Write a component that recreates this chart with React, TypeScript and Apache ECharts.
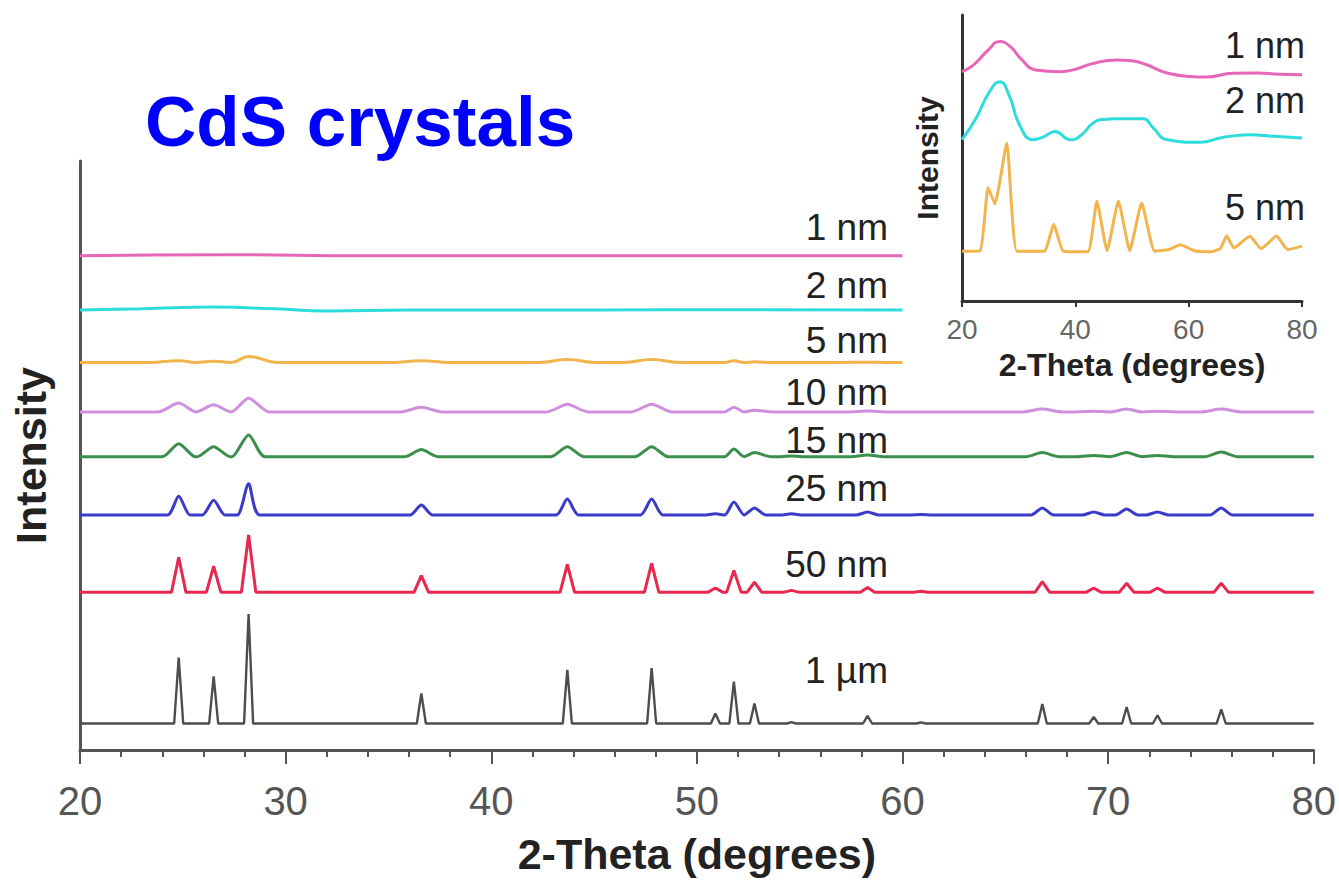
import React, { useEffect, useRef } from "react";
import * as echarts from "echarts";

// ---------- DATA ----------
const peakPositions = [24.8, 26.5, 28.2, 36.6, 43.7, 47.8, 50.9, 51.8, 52.8, 54.6, 58.3, 60.9, 66.8, 69.3, 70.9, 72.4, 75.5];
const heights1um = [11.2, 8.0, 18.6, 5.1, 9.1, 9.4, 1.7, 7.1, 3.4, 0.25, 1.3, 0.2, 3.3, 1.1, 2.8, 1.4, 2.4];
const heights50nm = [5.9, 4.4, 9.7, 2.8, 4.7, 4.9, 0.7, 3.7, 1.7, 0.3, 0.8, 0.15, 1.8, 0.7, 1.5, 0.7, 1.5];
const heights25nm = [3.2, 2.5, 5.3, 1.7, 2.7, 2.7, 0.2, 2.2, 1.2, 0.2, 0.5, 0.1, 1.2, 0.5, 1.0, 0.5, 1.2];
const heights15nm = [2.2, 1.7, 3.7, 1.2, 1.7, 1.7, 0, 1.3, 0.7, 0.1, 0.3, 0, 0.7, 0.2, 0.7, 0.2, 0.8];
const heights10nm = [1.5, 1.2, 2.3, 0.8, 1.3, 1.3, 0, 0.8, 0.3, 0, 0.15, 0, 0.5, 0.1, 0.5, 0.1, 0.5];
const heights5nm = [0.3, 0.2, 1.0, 0.3, 0.5, 0.5, 0, 0.3, 0.1, 0, 0.05, 0, 0, 0, 0, 0, 0];
const points2nm: number[][] = [[20, 0], [23, 0.2], [26.5, 0.5], [29.5, 0.2], [32, -0.15], [36, 0], [45, 0], [52, 0.05], [60, 0]];
const points1nm: number[][] = [[20, 0], [27, 0.2], [34, 0], [45, 0], [60, 0]];

const sampleNames = ["1 µm", "50 nm", "25 nm", "15 nm", "10 nm", "5 nm", "2 nm", "1 nm"];
const sampleOffsets = [4.5, 26.8, 39.9, 49.8, 57.4, 65.8, 74.7, 83.9];
const sampleColors = ["#4d4d4d", "#e8294f", "#3b3bc9", "#3a8f4a", "#cf8fdf", "#f2b44c", "#2fdcdc", "#e866b8"];
const sampleHalfWidths = [0.22, 0.35, 0.55, 0.8, 1.0, 1.4];
const sampleEnds = [80, 80, 80, 80, 80, 60, 60, 60];

// inset traces (x in degrees, y in inset units 0..100)
const inset1nm: number[][] = [[20, 80.2], [22, 82.5], [24.5, 87.5], [26.7, 90.7], [28.5, 89], [30.5, 84.5], [33, 80.8], [37.3, 80.2], [40, 81], [43, 83], [47.3, 84.3], [50, 84], [52.6, 82.6], [56, 79.8], [60.2, 78.5], [63, 78.3], [67.9, 79.6], [72, 79.7], [76, 79.3], [80, 79.1]];
const inset2nm: number[][] = [[20, 56.4], [22.5, 64], [24.8, 73], [26.7, 76.7], [28.3, 72], [30.2, 61.4], [32.5, 56.4], [34.5, 57.5], [36.4, 59.3], [39.1, 56.4], [40.8, 57.6], [43.2, 62.3], [45, 63.5], [47.3, 63.7], [52, 63.7], [53.7, 60.6], [56.2, 56.4], [62, 55.5], [66, 57.2], [70.8, 58.1], [75, 57.6], [80, 57.0]];
const inset5nm: number[][] = [[20, 17.4], [23.2, 17.6], [24.6, 39.6], [25.8, 34], [27.9, 55.2], [29.7, 17.4], [34.5, 17.4], [36.2, 26.8], [37.9, 17.4], [42.2, 17.2], [43.8, 34.9], [45.6, 17.6], [47.6, 34.9], [49.6, 17.6], [51.7, 34.3], [54, 17.4], [56.5, 18], [58.5, 19.7], [61, 17.6], [64, 17.2], [65.6, 18.4], [66.7, 22.7], [68, 18.6], [70.8, 22.6], [72.8, 18.3], [75.5, 22.7], [77.5, 18], [80, 19.2]];
const insetNames = ["1 nm", "2 nm", "5 nm"];
const insetColors = ["#e866b8", "#2fdcdc", "#f2b44c"];

const mainXTicks = { min: 20, max: 80, interval: 10 };
const insetXTicks = { min: 20, max: 80, interval: 20 };

// ---------- helpers ----------
function buildPattern(heights: number[], halfWidth: number, start: number, end: number, offset: number) {
  const pts: number[][] = [[start, offset]];
  peakPositions.forEach((p, i) => {
    if (p > end) return;
    const prev = i > 0 ? peakPositions[i - 1] : start;
    const next = i < peakPositions.length - 1 ? Math.min(peakPositions[i + 1], end) : end;
    const l = p - Math.min(halfWidth, (p - prev) / 2);
    const r = p + Math.min(halfWidth, (next - p) / 2);
    pts.push([l, offset], [p, offset + heights[i]], [r, offset]);
  });
  pts.push([end, offset]);
  return pts;
}

const FONT = "Liberation Sans, Arial, Helvetica, sans-serif";

export default function App() {
  const ref = useRef<HTMLDivElement>(null);
  useEffect(() => {
    if (!ref.current) return;
    const chart = echarts.init(ref.current, undefined, { renderer: "svg" });
    const heightSets = [heights1um, heights50nm, heights25nm, heights15nm, heights10nm, heights5nm];

    const mainSeries: any[] = sampleNames.map((name, i) => {
      let data: number[][];
      if (i < heightSets.length) {
        data = buildPattern(heightSets[i], sampleHalfWidths[i], 20, sampleEnds[i], sampleOffsets[i]);
      } else {
        const src = i === 6 ? points2nm : points1nm;
        data = src.map(([x, y]) => [x, y + sampleOffsets[i]]);
      }
      return {
        type: "line",
        name,
        xAxisIndex: 0,
        yAxisIndex: 0,
        data,
        showSymbol: false,
        smooth: i >= 2 && i <= 4 ? 0.25 : i >= 5 ? 0.5 : false,
        lineStyle: { color: sampleColors[i], width: i === 0 ? 2.4 : 3 },
        silent: true,
      };
    });

    const insetSeries = [inset1nm, inset2nm, inset5nm].map((d, i) => ({
      type: "line",
      name: "inset " + insetNames[i],
      xAxisIndex: 1,
      yAxisIndex: 1,
      data: d,
      showSymbol: false,
      smooth: i === 2 ? 0.15 : 0.5,
      lineStyle: { color: insetColors[i], width: 3 },
      silent: true,
    }));

    const mainLabelY = [670, 564, 488, 440, 392, 340, 285, 227];
    const insetLabelY = [45, 100, 207];

    const graphics: any[] = [
      {
        type: "text",
        x: 145,
        y: 121,
        style: { text: "CdS crystals", fill: "#0000ff", font: `bold 71px ${FONT}`, verticalAlign: "middle" },
      },
      ...sampleNames.map((n, i) => ({
        type: "text",
        x: 888,
        y: mainLabelY[i],
        style: { text: n, fill: "#222", font: `37px ${FONT}`, align: "right", verticalAlign: "middle" },
      })),
      ...insetNames.map((n, i) => ({
        type: "text",
        x: 1305,
        y: insetLabelY[i],
        style: { text: n, fill: "#222", font: `36px ${FONT}`, align: "right", verticalAlign: "middle" },
      })),
    ];

    chart.setOption({
      animation: false,
      backgroundColor: "#ffffff",
      grid: [
        { left: 80, right: 24, top: 161, bottom: 123 },
        { left: 962, right: 37, top: 15, bottom: 579 },
      ],
      xAxis: [
        {
          type: "value",
          gridIndex: 0,
          min: mainXTicks.min,
          max: mainXTicks.max,
          interval: mainXTicks.interval,
          name: "2-Theta (degrees)",
          nameLocation: "middle",
          nameGap: 82,
          nameTextStyle: { fontSize: 43, fontWeight: "bold", color: "#222", fontFamily: FONT },
          axisLine: { show: true, onZero: false, lineStyle: { color: "#555", width: 3 } },
          axisTick: { show: true, length: 14, inside: false, lineStyle: { color: "#555", width: 2 } },
          minorTick: { show: true, splitNumber: 5, length: 7, lineStyle: { color: "#555", width: 2 } },
          axisLabel: { fontSize: 40, color: "#555", margin: 31, fontFamily: FONT },
          splitLine: { show: false },
        },
        {
          type: "value",
          gridIndex: 1,
          min: insetXTicks.min,
          max: insetXTicks.max,
          interval: insetXTicks.interval,
          name: "2-Theta (degrees)",
          nameLocation: "middle",
          nameGap: 48,
          nameTextStyle: { fontSize: 32, fontWeight: "bold", color: "#222", fontFamily: FONT },
          axisLine: { show: true, onZero: false, lineStyle: { color: "#333", width: 3 } },
          axisTick: { show: true, length: 6, lineStyle: { color: "#333", width: 2 } },
          axisLabel: { fontSize: 28, color: "#666", margin: 14, fontFamily: FONT },
          splitLine: { show: false },
        },
      ],
      yAxis: [
        {
          type: "value",
          gridIndex: 0,
          min: 0,
          max: 100,
          name: "Intensity",
          nameLocation: "middle",
          nameGap: 28,
          nameRotate: 90,
          nameTextStyle: { fontSize: 43, fontWeight: "bold", color: "#222", fontFamily: FONT },
          axisLine: { show: true, onZero: false, lineStyle: { color: "#555", width: 3 } },
          axisTick: { show: false },
          axisLabel: { show: false },
          splitLine: { show: false },
        },
        {
          type: "value",
          gridIndex: 1,
          min: 0,
          max: 100,
          name: "Intensity",
          nameLocation: "middle",
          nameGap: 20,
          nameRotate: 90,
          nameTextStyle: { fontSize: 30, fontWeight: "bold", color: "#222", fontFamily: FONT },
          axisLine: { show: true, onZero: false, lineStyle: { color: "#333", width: 3 } },
          axisTick: { show: false },
          axisLabel: { show: false },
          splitLine: { show: false },
        },
      ],
      series: [...mainSeries, ...insetSeries],
      graphic: graphics,
    });
    return () => chart.dispose();
  }, []);
  return (
    <div
      ref={ref}
      style={{ position: "absolute", left: 0, top: 0, width: 1339, height: 880 }}
    />
  );
}
